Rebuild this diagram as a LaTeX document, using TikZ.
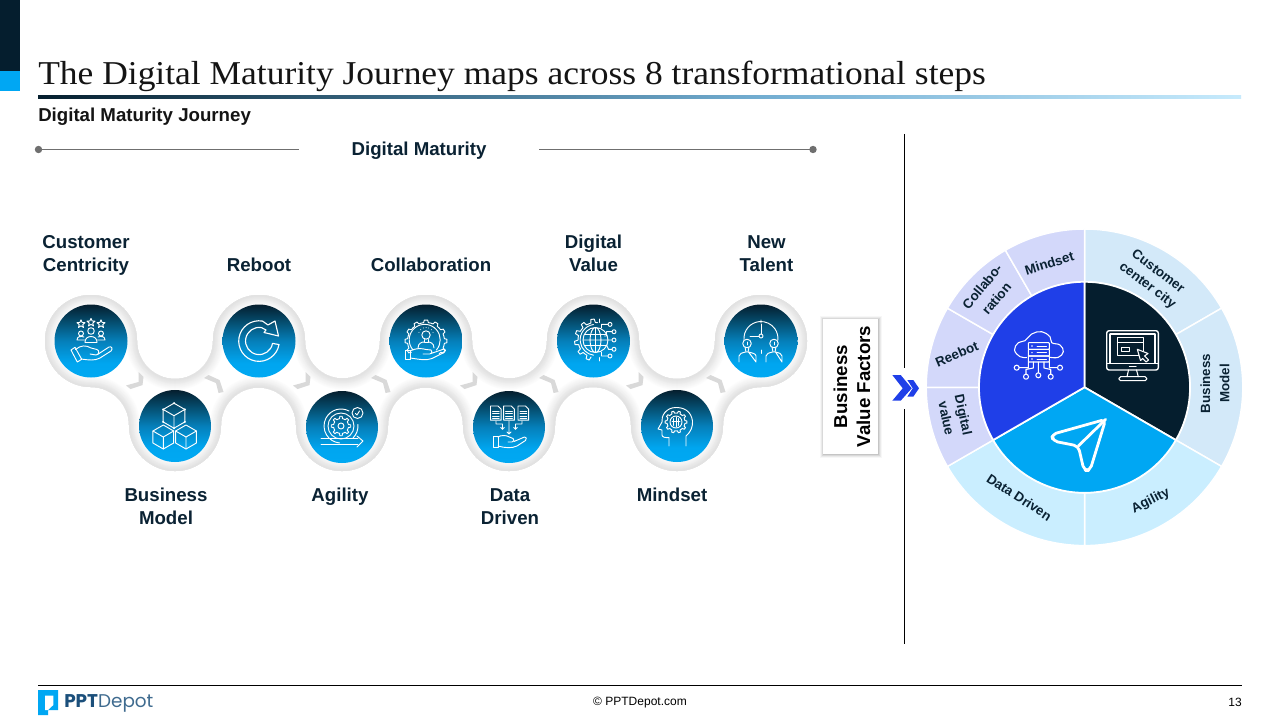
\documentclass[tikz,border=0pt]{standalone}
\usepackage{fontspec}
\usetikzlibrary{calc}
\setmainfont{Liberation Sans}
\newfontfamily\titlefont{Liberation Serif}
\newfontfamily\logofont{Poppins}
\definecolor{ink}{HTML}{0A2233}
\definecolor{navy}{HTML}{051E2E}
\definecolor{sky}{HTML}{00A7F3}
\definecolor{indigo}{HTML}{1F3FE8}
\definecolor{ringA}{HTML}{D3E9F9}
\definecolor{ringB}{HTML}{CAEEFF}
\definecolor{ringC}{HTML}{D3D8FA}
\definecolor{chev}{HTML}{D9D9D9}
\definecolor{rule}{HTML}{6F6F6F}
\pgfdeclareverticalshading{orb}{100bp}{rgb(0bp)=(0,0.66,0.95); rgb(25bp)=(0,0.66,0.95); rgb(35bp)=(0,0.65,0.94); rgb(50bp)=(0.02,0.50,0.73); rgb(62bp)=(0.02,0.32,0.46); rgb(75bp)=(0.02,0.12,0.18); rgb(100bp)=(0.02,0.12,0.18)}
\pgfdeclarehorizontalshading{titlerule}{100bp}{rgb(0bp)=(0.02,0.12,0.18); rgb(25bp)=(0.02,0.12,0.18); rgb(41bp)=(0.24,0.43,0.54); rgb(55bp)=(0.45,0.68,0.82); rgb(75bp)=(0.78,0.92,0.99); rgb(100bp)=(0.78,0.92,0.99)}
\tikzset{
 icon/.style={draw=white,line width=0.7pt,line join=round,line cap=round},
 wicon/.style={draw=white,line width=1.05pt,line join=round,line cap=round},
 lab/.style={font=\fontsize{14pt}{17.25pt}\selectfont\bfseries,text=ink,align=center,inner sep=0pt},
 wlab/.style={font=\fontsize{10pt}{13pt}\selectfont\bfseries,text=ink,align=center,inner sep=0pt},
 orbfill/.style={shading=orb},
 chevfill/.style={fill=chev,draw=none},
}
\newcommand\icoGear[6]{% start angle, step, count-1, outer r, inner r, end
 \pgfmathsetmacro\gw{#2/4}
 \draw[icon] ({#1-\gw}:#5) \foreach \i in {0,...,#3} { -- ({#1+\i*#2-\gw}:#5) -- ({#1+\i*#2-0.6*\gw}:#4) -- ({#1+\i*#2+0.6*\gw}:#4) -- ({#1+\i*#2+\gw}:#5) -- ({#1+\i*#2+2*\gw}:#5)} #6;
}
\newcommand\icoCube[4][]{% x,y,r
 \draw[icon] (#2,#3) ++(270:#4) -- ++(30:#4) -- ++(90:#4) -- ++(150:#4) -- ++(210:#4) -- ++(270:#4) -- cycle;
 \draw[icon] (#2,#3) -- ++(90:#4) (#2,#3) -- ++(210:#4) (#2,#3) -- ++(330:#4);
}
\newcommand\icoStar[3]{% x,y,r
 \draw[icon] ($(#1,#2)+(270:#3)$) -- ($(#1,#2)+(306:#3*0.45)$) -- ($(#1,#2)+(342:#3)$) -- ($(#1,#2)+(18:#3*0.45)$) -- ($(#1,#2)+(54:#3)$) -- ($(#1,#2)+(90:#3*0.45)$) -- ($(#1,#2)+(126:#3)$) -- ($(#1,#2)+(162:#3*0.45)$) -- ($(#1,#2)+(198:#3)$) -- ($(#1,#2)+(234:#3*0.45)$) -- cycle;
}
\newcommand\icoDoc[2]{% x left, y top
 \draw[icon] (#1,#2) -- ++(7.5,0) -- ++(3.2,3.2) -- ++(0,11) -- ++(-10.7,0) -- cycle;
 \foreach \dy in {5,7.5,10,12.5} \draw[icon] ({#1+2},{#2+\dy}) -- ++(6.7,0);
}
\def\ribbon{(91,387) arc[start angle=90,end angle=360,radius=46]
 arc[start angle=180,end angle=0,radius=38]
 arc[start angle=180,end angle=360,radius=46]
 arc[start angle=180,end angle=0,radius=37.5]
 arc[start angle=180,end angle=360,radius=46]
 arc[start angle=180,end angle=0,radius=37.5]
 arc[start angle=180,end angle=360,radius=46]
 arc[start angle=180,end angle=0,radius=38]
 arc[start angle=180,end angle=450,radius=46]
 arc[start angle=270,end angle=180,radius=38]
 arc[start angle=0,end angle=180,radius=46]
 arc[start angle=360,end angle=180,radius=38]
 arc[start angle=0,end angle=180,radius=46]
 arc[start angle=360,end angle=180,radius=37.5]
 arc[start angle=0,end angle=180,radius=46]
 arc[start angle=360,end angle=180,radius=37.5]
 arc[start angle=0,end angle=180,radius=46]
 arc[start angle=360,end angle=270,radius=38] -- cycle}
\newcommand\sector[5]{% r1,r2,a1,a2,colour
 \fill[#5,draw=white,line width=1.1pt,line join=round] (#3:#1) arc[start angle=#3,end angle=#4,radius=#1] -- (#4:#2) arc[start angle=#4,end angle=#3,radius=#2] -- cycle;
}
\newcommand\chevDown[2]{\fill[chevfill,shift={(#1,#2)}] (0,13.5)--(12.5,10)--(12.5,0)--(17.5,5)--(16.5,13)--(4.5,17)--cycle;}
\newcommand\chevUp[2]{\fill[chevfill,shift={(#1,#2)}] (0,3)--(4.5,0)--(15.5,5)--(19.5,17)--(14.5,18)--(12,8)--cycle;}
\begin{document}
\begin{tikzpicture}[x=0.75pt,y=-0.75pt]
\useasboundingbox (0,0) rectangle (1280,720);
\fill[white] (0,0) rectangle (1280,720);
% header
\fill[navy] (0,0) rectangle (20,71);
\fill[sky] (0,71) rectangle (20,91);
\node[anchor=base west,inner sep=0pt,text=black!92] (title) at (38,85) {\titlefont\fontsize{25pt}{30pt}\selectfont\scalebox{1.064}[1]{The Digital Maturity Journey maps across 8 transformational steps}};
\shade[shading=titlerule] (38,95.5) rectangle (1241,99);
\node[anchor=base west,inner sep=0pt,font=\fontsize{14pt}{16pt}\selectfont\bfseries,text=black!92] (sub) at (38,121.5) {Digital Maturity Journey};
% digital maturity scale
\node[lab,anchor=base] (dm) at (419,155.5) {Digital Maturity};
\coordinate (dmA) at (38.5,149.5);
\coordinate (dmB) at (299,149.5);
\coordinate (dmC) at (539,149.5);
\coordinate (dmD) at (813,149.5);
\draw[rule,line width=0.9pt] (dmA) -- (dmB);
\draw[rule,line width=0.9pt] (dmC) -- (dmD);
\fill[rule] (dmA) circle[radius=3.7];
\fill[rule] (dmD) circle[radius=3.7];
% ribbon
\fill[white] \ribbon;
\begin{scope}
 \clip \ribbon;
 \foreach \w/\c in {22/1,20/2,18/3,16/4,14/5,12/6,10/7.5,8/8.5,6/9.5,4/10.5,2/11.5}{
  \draw[line width=\w*0.75pt,draw=black!\c] \ribbon;
 }
\end{scope}
% chevrons
\chevDown{126}{372}\chevDown{293}{372}\chevDown{460}{372}\chevDown{626}{372}
\chevUp{204}{375}\chevUp{371}{375}\chevUp{539}{375}\chevUp{706}{375}
% orbs
\path[orbfill] (91,341) circle[radius=36.5];
\path[orbfill] (175,426) circle[radius=36];
\path[orbfill] (259,341) circle[radius=36.5];
\path[orbfill] (342,427) circle[radius=36];
\path[orbfill] (426,341) circle[radius=36.5];
\path[orbfill] (509,427) circle[radius=36];
\path[orbfill] (593.5,341) circle[radius=36.5];
\path[orbfill] (677,426) circle[radius=36];
\path[orbfill] (761,341) circle[radius=36.5];
% icon 1 customer
\begin{scope}[shift={(91,341)}]
 \icoStar{-10}{-17}{4.2}\icoStar{0}{-18.5}{4.2}\icoStar{10}{-17}{4.2}
 \draw[icon] (0,-10) circle[radius=3.3] (-10,-7.5) circle[radius=2.5] (10,-7.5) circle[radius=2.5];
 \draw[icon] (-6,1.5) .. controls (-6.5,-6.5) and (6.5,-6.5) .. (6,1.5) -- cycle;
 \draw[icon] (-6.5,-1) -- (-14,-1) .. controls (-14,-5) and (-10,-5) .. (-7,-4);
 \draw[icon] (6.5,-1) -- (14,-1) .. controls (14,-5) and (10,-5) .. (7,-4);
 \draw[icon] (-20,9) -- (-16,6.3) -- (-9.3,18.3) -- (-13.7,21) -- cycle;
 \draw[icon] (-15.5,8.5) .. controls (-10,4) and (-5,4) .. (0,7) -- (6,8.5) .. controls (9,9.5) and (8,14) .. (5,14) -- (-1,13);
 \draw[icon] (6.5,13.5) -- (18,6) .. controls (21,5) and (22,8) .. (20,10) -- (9,17) .. controls (4,20) and (-3,19) .. (-10,18);
\end{scope}
% icon 2 cubes
\begin{scope}[shift={(175,426)}]
 \icoCube{-1}{-10.3}{12.5}\icoCube{-11.7}{11}{12}\icoCube{11}{11}{12}
 \foreach \a in {30,90,150,210,270,330} \fill[white] ($(-1,-10.3)+(\a:12.5)$) circle[radius=1.2];
\end{scope}
% icon 3 reboot
\begin{scope}[shift={(259,341)}]
 \draw[icon,line width=0.85pt] (20,3.6) arc[start angle=10,end angle=280,radius=20.3] -- (9,-16) -- (16,-20) -- (19.5,-5) -- (5,-8.5) -- (7,-11) -- (2.5,-13.4) arc[start angle=280,end angle=10,radius=13.6] -- cycle;
\end{scope}
% icon 4 agility
\begin{scope}[shift={(342,427)}]
 \draw[icon] (-1,-1) circle[radius=3];
 \draw[icon] (-1,-1) circle[radius=13];
 \draw[icon] (11,11) arc[start angle=45,end angle=-5,radius=17] ;
 \draw[icon] (7,-16) arc[start angle=-62,end angle=-265,radius=17];
 \begin{scope}[shift={(-1,-1)}]\icoGear{0}{45}{7}{9.8}{7.5}{-- cycle}\end{scope}
 \draw[icon] (15.5,-14) circle[radius=5.5];
 \draw[icon] (13.5,-13.5) -- (15,-12) -- (17.5,-16);
 \draw[icon] (-21,11.5) -- (16,11.5) (-21,17) -- (16,17);
 \draw[icon] (15,9) -- (21,14) -- (15,20);
\end{scope}
% icon 5 collaboration
\begin{scope}[shift={(426,341)}]
 \icoGear{150}{30}{8}{21}{18.5}{}
 \draw[icon] (-13,9) arc[start angle=139,end angle=401,radius=15.5];
 \draw[icon] (0,-6) circle[radius=4.2];
 \draw[icon] (-2,-1.5) -- (-2,1) -- (2,1) -- (2,-1.5);
 \foreach \a in {200,225,250,270,290,315,340} \fill[white] ($(0,-6)+(\a:7.5)$) circle[radius=0.5];
 \draw[icon] (-8,7) .. controls (-8,2) and (-4,1) .. (-2,1) (2,1) .. controls (4,1) and (8,2) .. (8,7);
 \draw[icon] (-21,9) rectangle (-16,18);
 \draw[icon] (-16,10) .. controls (-9,6.5) and (-4,7.5) .. (0,8.5) -- (5,9) .. controls (7,10) and (6,13) .. (4,13) -- (-3,13);
 \draw[icon] (5,12.5) -- (18,8) .. controls (20,8) and (20,10.5) .. (18,11.5) -- (6,17.5) .. controls (0,20) and (-8,18) .. (-16,17);
\end{scope}
% icon 6 data driven
\begin{scope}[shift={(509,427)}]
 \icoDoc{-18.5}{-21}\icoDoc{-5.3}{-21}\icoDoc{9}{-21}
 \draw[icon,-] (0,-6) -- (0,7) (-2,5) -- (0,7) -- (2,5);
 \draw[icon] (-13,-6) -- (-13,-3) -- (-6.5,-3) -- (-6.5,2.3) (-8.3,0.5) -- (-6.5,2.3) -- (-4.7,0.5);
 \draw[icon] (13,-6) -- (13,-3) -- (6.5,-3) -- (6.5,2.3) (8.3,0.5) -- (6.5,2.3) -- (4.7,0.5);
 \draw[icon] (-16,9) rectangle (-11,20);
 \draw[icon] (-11,10) .. controls (-8,8) and (-4,8.5) .. (-2,9) -- (4,11.5) .. controls (6,12.5) and (5,15) .. (3,15) -- (-1,15);
 \draw[icon] (5,14.5) -- (15.5,10) .. controls (17.5,9.5) and (18,12) .. (16.5,13.5) -- (8,19) .. controls (3,21.5) and (-4,21) .. (-11,19);
\end{scope}
% icon 7 digital value
\begin{scope}[shift={(593.5,341)}]
 \begin{scope}[shift={(2,-1)}]
  \icoGear{112}{30}{5}{21}{17.5}{}
  \draw[icon] (3.5,-21) -- (3.5,-17.5) (3.5,21) -- (3.5,17.5);
  \draw[icon] (0,0) circle[radius=12.5] (0,0) ellipse[x radius=5.5,y radius=12.5] (0,-12.5) -- (0,12.5) (-12.5,0) -- (12.5,0) (-11,-5.5) -- (11,-5.5) (-11,5.5) -- (11,5.5);
  \draw[icon] (-2,-15.5) arc[start angle=262,end angle=98,radius=15.5];
 \end{scope}
 \foreach \x/\y in {16.5/-16.6,20.5/-9.3,20.5/-1,20.5/8.3,16.5/15} \draw[icon] (\x,\y) circle[radius=2];
 \draw[icon] (14.5,-16.6) -- (8,-16.6) -- (8,-13) (18.5,-9.3) -- (13,-9.3) -- (13,-5) -- (11,-5) (18.5,-1) -- (14.5,-1) (18.5,8.3) -- (15,8.3) -- (13,4) (14.5,15) -- (8,15) -- (8,11);
\end{scope}
% icon 8 new talent
\begin{scope}[shift={(761,341)}]
 \draw[icon] (-17,-1) arc[start angle=175,end angle=365,radius=17];
 \draw[icon] (0,-21) -- (0,-18) (0,-5) circle[radius=2];
 \draw[icon] (0,-7) -- (0,-17);
 \draw[icon] (-2,-5) -- (-11,-5);
 \draw[icon] (0,9) -- (0,12.5);
 \draw[icon] (-14,2.5) circle[radius=4.3] (13,2.5) circle[radius=4.3];
 \draw[icon] (-14,1.2) -- (-14,3.8) (13,1.2) -- (13,3.8);
 \draw[icon] (-16,6) -- (-15,11) -- (-13,11) -- (-12,6) (11,6) -- (12,11) -- (14,11) -- (15,6);
 \draw[icon] (-22,21) -- (-22,15) .. controls (-22,12.5) and (-19,12) .. (-15.5,11) (-12.5,11) .. controls (-9,12) and (-5,12.5) .. (-5,15) -- (-5,21) -- cycle;
 \draw[icon] (5,21) -- (5,15) .. controls (5,12.5) and (8,12) .. (11.5,11) (14.5,11) .. controls (18,12) and (21,12.5) .. (21,15) -- (21,21) -- cycle;
\end{scope}
% icon mindset
\begin{scope}[shift={(677,426)}]
 \begin{scope}[shift={(-1,-4)}]
 \icoGear{0}{36}{9}{11}{9}{-- cycle}
 \draw[icon] (0,0) circle[radius=6];
 \draw[icon] (0,-5) -- (0,5) (-2.5,-3.5) -- (-2.5,3.5) (2.5,-3.5) -- (2.5,3.5) (-4,-1) -- (4,-1);
 \end{scope}
 \draw[icon] (9,20) -- (9,10) .. controls (14,6) and (16,0) .. (15.5,-5) .. controls (14,-15) and (7,-18.5) .. (-1,-18.5) .. controls (-11,-18.5) and (-16,-10) .. (-15,-4) -- (-19,3) -- (-15,4) -- (-15,9) .. controls (-15,11) and (-12,12) .. (-8,11.5) -- (-8,20);
\end{scope}
% orb labels
\node[lab] (l1) at (86,255.5) {Customer\\Centricity};
\node[lab] (l2) at (166,506) {Business\\Model};
\node[lab,anchor=base] (l3) at (259,271.7) {Reboot};
\node[lab,anchor=base] (l4) at (340,501.7) {Agility};
\node[lab,anchor=base] (l5) at (431,271.7) {Collaboration};
\node[lab] (l6) at (510,506.5) {Data\\Driven};
\node[lab] (l7) at (593.5,253) {Digital\\Value};
\node[lab,anchor=base] (l8) at (672,501.7) {Mindset};
\node[lab] (l9) at (766.5,254) {New\\Talent};
% vertical rule
\coordinate (vA) at (904.5,134);
\coordinate (vB) at (904.5,368);
\coordinate (vC) at (904.5,409);
\coordinate (vD) at (904.5,644);
\draw[black,line width=0.75pt] (vA) -- (vB) (vC) -- (vD);
% value factors box
\foreach \o/\op in {4/0.03,3/0.05,2/0.07,1/0.09}{
 \fill[black,opacity=\op] ({823-\o+1},{319-\o+1}) rectangle ({878+\o},{454+\o});
}
\fill[white] (823,319) rectangle (878,454);
\node[rotate=90,inner sep=0pt,font=\fontsize{14pt}{17.25pt}\selectfont\bfseries,text=black,align=center] (bvf) at (852,386.5) {Business\\Value Factors};
\fill[indigo] (892.3,375)--(900.7,375)--(911.7,388.3)--(900.7,400.7)--(892.3,400.7)--(902.7,388.3)--cycle;
\fill[indigo] (907.3,380)--(913.3,380)--(919,388.3)--(913.3,396.7)--(907.3,396.7)--(912.7,388.3)--cycle;
% wheel
\begin{scope}[shift={(1084.5,387.3)}]
 \sector{105.5}{158.3}{270}{330}{ringA}
 \sector{105.5}{158.3}{330}{390}{ringA}
 \sector{105.5}{158.3}{30}{90}{ringB}
 \sector{105.5}{158.3}{90}{150}{ringB}
 \sector{105.5}{158.3}{150}{180}{ringC}
 \sector{105.5}{158.3}{180}{210}{ringC}
 \sector{105.5}{158.3}{210}{240}{ringC}
 \sector{105.5}{158.3}{240}{270}{ringC}
 \fill[navy,draw=white,line width=1.3pt,line join=round] (0,0) -- (270:105.5) arc[start angle=270,end angle=390,radius=105.5] -- cycle;
 \fill[sky,draw=white,line width=1.3pt,line join=round] (0,0) -- (30:105.5) arc[start angle=30,end angle=150,radius=105.5] -- cycle;
 \fill[indigo,draw=white,line width=1.3pt,line join=round] (0,0) -- (150:105.5) arc[start angle=150,end angle=270,radius=105.5] -- cycle;
\end{scope}
\node[wlab,rotate=-37] (w1) at (1152.5,279) {Customer\\center city};
\node[wlab,rotate=90] (w2) at (1215,383.5) {Business\\[1.5pt]Model};
\node[wlab,rotate=27] (w3) at (1150.7,501) {Agility};
\node[wlab,rotate=-33] (w4) at (1019.3,497.3) {Data Driven};
\node[wlab,rotate=-78] (w5) at (955,416.7) {Digital\\value};
\node[wlab,rotate=23] (w6) at (956.7,354.3) {Reebot};
\node[wlab,rotate=50] (w7) at (989.3,292.7) {Collabo-\\[1pt]ration};
\node[wlab,rotate=17] (w8) at (1049.3,263.3) {Mindset};
% monitor icon
\draw[wicon,rounded corners=1.8pt] (1106.7,330.7) rectangle (1158.3,370);
\draw[wicon,line width=0.8pt] (1106.7,363.3) -- (1158.3,363.3);
\draw[wicon,line width=0.8pt] (1110,334) -- (1155,334) -- (1155,363.3) (1110,363.3) -- (1110,334);
\draw[wicon,line width=0.8pt] (1117.3,337.3) rectangle (1143.3,355.7);
\draw[wicon,line width=0.8pt] (1117.3,342.7) -- (1143.3,342.7);
\draw[wicon,line width=0.8pt] (1121.7,347.3) rectangle (1129.3,351.7);
\fill[navy] (1137.3,349.3) -- (1150,354) -- (1146,357) -- (1149,360) -- (1146.5,362) -- (1143,359.5) -- (1141,362) -- cycle;
\draw[wicon,line width=0.8pt] (1137.3,349.3) -- (1148,353.5) -- (1144.5,356) -- (1148.5,360) -- (1146,362) -- (1142.5,358.5) -- (1140.5,360.5) -- cycle;
\draw[wicon,line width=0.8pt] (1129.3,366.5) -- (1136,366.5);
\draw[wicon,line width=0.8pt] (1128.5,370) -- (1127,376.7) (1136.5,370) -- (1138.3,376.7);
\draw[wicon,rounded corners=1.2pt,line width=0.8pt] (1119,376.7) rectangle (1146.7,380.7);
% cloud icon
\draw[wicon,line width=0.8pt] plot[smooth,tension=0.7] coordinates {(1026.5,357.5) (1020,356.7) (1014.5,350) (1018.3,342.7) (1025,340.7) (1031.7,334) (1041.7,331.7) (1050,336.7) (1051.7,342.7) (1060,345) (1063.3,351.7) (1058.3,357.3) (1050,357.3)};
\fill[indigo] (1028.3,342.7) rectangle (1049.3,362);
\foreach \ya/\yb in {342.7/349.3,349.3/356,356/362}{
 \draw[wicon,line width=0.8pt,rounded corners=0.5pt] (1028.3,\ya) rectangle (1049.3,\yb);
 \draw[wicon,line width=0.7pt] (1037,{(\ya+\yb)/2}) -- (1046.5,{(\ya+\yb)/2});
 \fill[white] (1032,{(\ya+\yb)/2}) circle[radius=0.8];
}
\draw[wicon,line width=0.8pt] (1038.3,362) -- (1038.3,372.7) (1033.3,362) -- (1033.3,368) -- (1026,369.5) -- (1026,374) (1044,362) -- (1044,368) -- (1050.7,369.5) -- (1050.7,374) (1028.3,362) -- (1028.3,367.7) -- (1019,367.7) (1049.3,362) -- (1049.3,367.7) -- (1057.3,367.7);
\draw[wicon,line width=0.8pt] (1038.3,375.3) circle[radius=2.5] (1026,376.7) circle[radius=2.5] (1050.7,376.7) circle[radius=2.5] (1016.7,367.7) circle[radius=2.5] (1060,367.7) circle[radius=2.5];
% paper plane icon
\draw[white,line width=2.1pt,line join=round,line cap=round,rounded corners=3.5pt] (1105.7,419.3) -- (1051.5,434.5) -- (1053,441) -- (1078.3,446) -- (1084,470.5) -- (1090,470.5) -- cycle;
\draw[white,line width=2.1pt,line cap=round] (1078.3,446) -- (1105.7,419.3);
% footer
\coordinate (fA) at (38,685.5);
\coordinate (fB) at (1242,685.5);
\draw[black,line width=0.75pt] (fA) -- (fB);
\fill[sky] (38,690) -- (58,690) -- (58,710) -- (48,710) -- (48,715) -- (38,715) -- cycle;
\fill[white] (45,695.5) -- (53.3,695.5) -- (53.3,705) -- (48,710) -- (45,710) -- cycle;
\node[anchor=west,inner sep=0pt] (logo) at (64,703) {\logofont\fontsize{13.8pt}{16pt}\selectfont\textcolor[HTML]{1B4F7B}{\bfseries PPT}\textcolor[HTML]{3F6B8F}{Depot}};
\node[inner sep=0pt,font=\fontsize{9pt}{11pt}\selectfont] (copy) at (640,703) {© PPTDepot.com};
\node[inner sep=0pt,font=\fontsize{9pt}{11pt}\selectfont] (page) at (1235,702.5) {13};
\end{tikzpicture}
\end{document}
